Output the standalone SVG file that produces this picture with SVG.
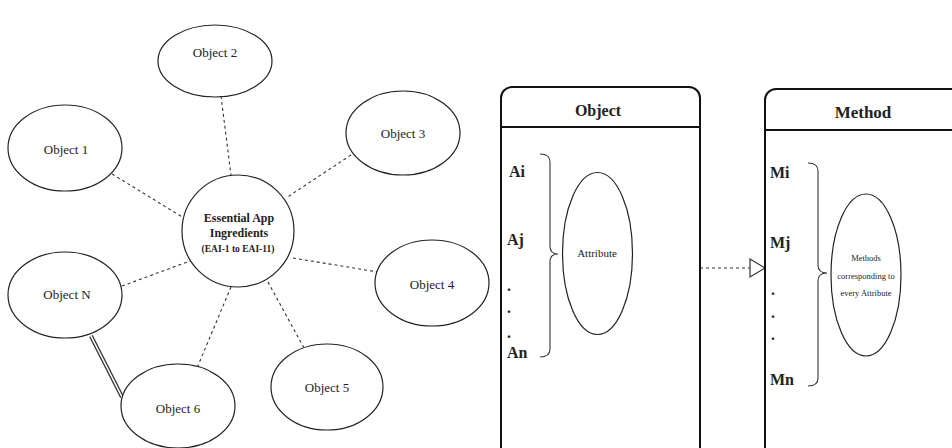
<svg xmlns="http://www.w3.org/2000/svg" width="952" height="448" viewBox="0 0 952 448">
<defs>
<style>
.nd{fill:#fff;stroke:#222;stroke-width:1.2}
.ds{fill:none;stroke:#333;stroke-width:1.1;stroke-dasharray:3,3}
.bx{fill:#fff;stroke:#111;stroke-width:2}
.br{fill:none;stroke:#333;stroke-width:1.1}
</style>
</defs>
<rect width="952" height="448" fill="#fff"/>
<g id="connectors">
<line class="ds" x1="221" y1="96" x2="231" y2="175"/>
<line class="ds" x1="112" y1="174" x2="184" y2="218"/>
<line class="ds" x1="351" y1="155" x2="286" y2="198"/>
<line class="ds" x1="293" y1="258" x2="378" y2="272"/>
<line class="ds" x1="122" y1="286" x2="190" y2="261"/>
<line class="ds" x1="268" y1="282" x2="304" y2="348"/>
<line class="ds" x1="231" y1="287" x2="197" y2="368"/>
<line x1="91" y1="336" x2="122" y2="397" stroke="#333" stroke-width="4"/>
<line x1="91" y1="336" x2="122" y2="397" stroke="#fff" stroke-width="1.6"/>
<line class="ds" x1="700" y1="268" x2="750" y2="268"/>
<path d="M750,259 L765,268 L750,277 Z" fill="#fff" stroke="#333" stroke-width="1.2"/>
</g>
<g id="center">
<circle class="nd" cx="238" cy="231" r="56"/>
<text x="239" y="222" text-anchor="middle" fill="#222" style="font-family:'Liberation Serif',serif;font-weight:bold;font-size:12px">Essential App</text>
<text x="239" y="237" text-anchor="middle" fill="#222" style="font-family:'Liberation Serif',serif;font-weight:bold;font-size:12px">Ingredients</text>
<text x="238" y="252" text-anchor="middle" fill="#222" style="font-family:'Liberation Serif',serif;font-weight:bold;font-size:9.5px">(EAI-1 to EAI-11)</text>
</g>
<g id="obj2"><ellipse class="nd" cx="215" cy="61" rx="57" ry="36"/><text x="215" y="57" text-anchor="middle" fill="#222" style="font-family:'Liberation Serif',serif;font-size:13px">Object 2</text></g>
<g id="obj1"><ellipse class="nd" cx="65" cy="148" rx="57" ry="43"/><text x="66" y="154" text-anchor="middle" fill="#222" style="font-family:'Liberation Serif',serif;font-size:13px">Object 1</text></g>
<g id="obj3"><ellipse class="nd" cx="403" cy="133" rx="57" ry="42"/><text x="403" y="138" text-anchor="middle" fill="#222" style="font-family:'Liberation Serif',serif;font-size:13px">Object 3</text></g>
<g id="obj4"><ellipse class="nd" cx="432" cy="283" rx="57" ry="43"/><text x="432" y="289" text-anchor="middle" fill="#222" style="font-family:'Liberation Serif',serif;font-size:13px">Object 4</text></g>
<g id="objN"><ellipse class="nd" cx="65" cy="295" rx="57" ry="43"/><text x="67" y="299" text-anchor="middle" fill="#222" style="font-family:'Liberation Serif',serif;font-size:13px">Object N</text></g>
<g id="obj5"><ellipse class="nd" cx="327" cy="387" rx="56" ry="43"/><text x="327" y="392" text-anchor="middle" fill="#222" style="font-family:'Liberation Serif',serif;font-size:13px">Object 5</text></g>
<g id="obj6"><ellipse class="nd" cx="178" cy="406" rx="57" ry="42"/><text x="178" y="413" text-anchor="middle" fill="#222" style="font-family:'Liberation Serif',serif;font-size:13px">Object 6</text></g>
<g id="objectBox">
<rect class="bx" x="501" y="87" width="199" height="380" rx="11"/>
<line x1="501" y1="127" x2="700" y2="127" stroke="#111" stroke-width="2"/>
<text x="598" y="116" text-anchor="middle" fill="#222" style="font-family:'Liberation Serif',serif;font-weight:bold;font-size:16px">Object</text>
<g fill="#222" style="font-family:'Liberation Serif',serif;font-weight:bold;font-size:16px">
<text x="509" y="177">Ai</text>
<text x="507" y="245">Aj</text>
<text x="507" y="291">.</text>
<text x="507" y="313">.</text>
<text x="507" y="338">.</text>
<text x="507" y="358">An</text>
</g>
<path class="br" d="M540,154 Q550,154 550,162 L550,246 Q550,254 558,254 Q550,254 550,262 L550,349 Q550,357 540,357"/>
<ellipse class="nd" cx="597.5" cy="253.5" rx="35" ry="81"/>
<text x="597" y="257" text-anchor="middle" fill="#222" style="font-family:'Liberation Serif',serif;font-size:11px">Attribute</text>
</g>
<g id="methodBox">
<rect class="bx" x="765" y="89" width="200" height="380" rx="11"/>
<line x1="765" y1="130" x2="952" y2="130" stroke="#111" stroke-width="2"/>
<text x="863" y="118" text-anchor="middle" fill="#222" style="font-family:'Liberation Serif',serif;font-weight:bold;font-size:17px">Method</text>
<g fill="#222" style="font-family:'Liberation Serif',serif;font-weight:bold;font-size:16px">
<text x="770" y="178">Mi</text>
<text x="770" y="248">Mj</text>
<text x="771" y="295">.</text>
<text x="771" y="318">.</text>
<text x="771" y="340">.</text>
<text x="770" y="385">Mn</text>
</g>
<path class="br" d="M808,163 Q818,163 818,171 L818,265 Q818,273 827,273 Q818,273 818,281 L818,378 Q818,386 808,386"/>
<ellipse class="nd" cx="866" cy="275" rx="35" ry="81"/>
<g text-anchor="middle" fill="#222" style="font-family:'Liberation Serif',serif;font-size:8.5px">
<text x="866" y="261">Methods</text>
<text x="866" y="279">corresponding to</text>
<text x="866" y="296">every Attribute</text>
</g>
</g>
</svg>
